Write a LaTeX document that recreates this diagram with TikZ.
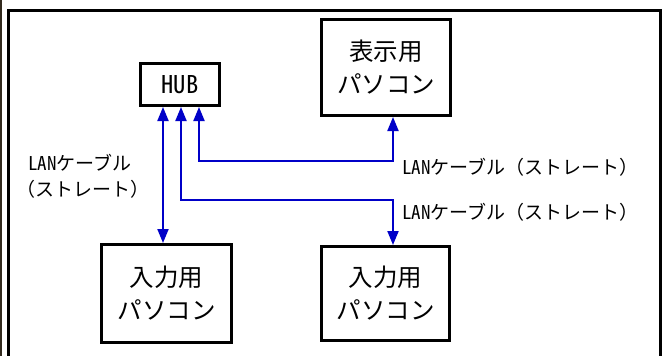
\documentclass[tikz,border=0pt]{standalone}
\usepackage{fontspec}
\usetikzlibrary{arrows.meta}
\setmainfont{Noto Sans CJK JP}
\newfontfamily\hwfont[RawFeature=+hwid]{Noto Sans CJK JP}
\definecolor{cablec}{RGB}{0,0,200}
\definecolor{edgec}{RGB}{50,42,30}
\begin{document}
\begin{tikzpicture}[x=1pt,y=-1pt,
  box/.style={draw=black,line width=3pt,align=center,inner sep=0pt,
    font=\fontsize{24.5}{33}\selectfont},
  cable/.style={draw=cablec,line width=2pt,
    {Triangle[width=11pt,length=14pt]}-{Triangle[width=11pt,length=14pt]}},
  lab/.style={font=\fontsize{19}{24}\selectfont,anchor=west,inner sep=0pt}]
\useasboundingbox (0,0) rectangle (664,356);
\fill[white] (0,0) rectangle (664,356);
\draw[line width=2pt,edgec] (1,0) -- (1,356);
\draw[line width=3pt] (8,360) -- (8,10) -- (660,10) -- (660,360);
\node[box,minimum width=79pt,minimum height=42pt] (hub) at (180,84.5) {\hwfont HUB};
\node[box,minimum width=129pt,minimum height=96pt] (disp) at (386,67.5) {表示用\\パソコン};
\node[box,minimum width=130pt,minimum height=98pt] (in1) at (166.5,293.5) {入力用\\パソコン};
\node[box,minimum width=128pt,minimum height=94pt] (in2) at (385.5,293.5) {入力用\\パソコン};
\coordinate (c1) at (163,0);
\coordinate (c2) at (181,200);
\coordinate (c3) at (199,161);
\coordinate (t) at (393,0);
\draw[cable] (hub.south -| c1) -- (in1.north -| c1);
\draw[cable] (hub.south -| c2) -- (c2) -- (c2 -| t) -- (in2.north -| t);
\draw[cable] (hub.south -| c3) -- (c3) -- (c3 -| t) -- (disp.south -| t);
\node[lab] (l1a) at (28,163) {{\hwfont LAN}ケーブル};
\node[lab] (l1b) at (16,189) {（ストレート）};
\node[lab] (l2) at (402,167) {{\hwfont LAN}ケーブル（ストレート）};
\node[lab] (l3) at (402,212) {{\hwfont LAN}ケーブル（ストレート）};
\end{tikzpicture}
\end{document}
